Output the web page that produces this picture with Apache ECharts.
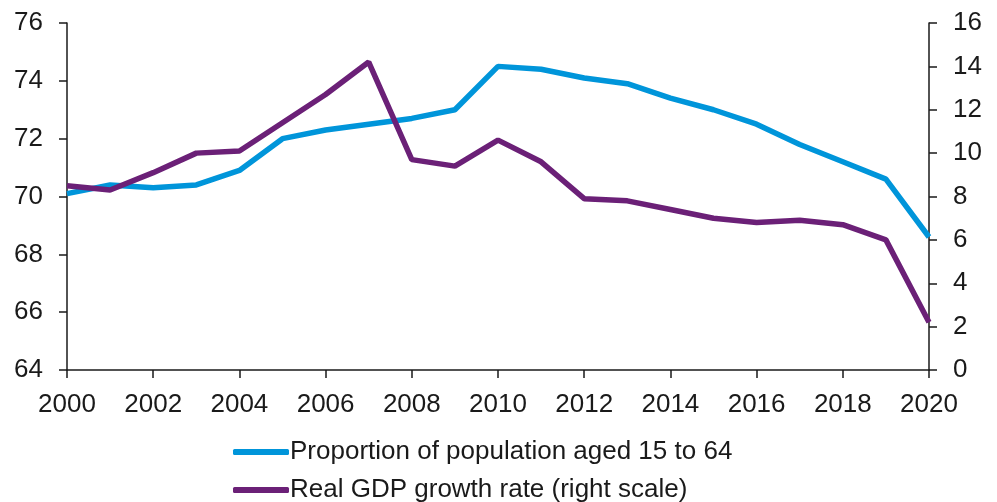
<!DOCTYPE html>
<html><head><meta charset="utf-8">
<script src="https://cdn.jsdelivr.net/npm/echarts@6/dist/echarts.min.js"></script>
<style>html,body{margin:0;padding:0;background:#fff}#c{width:997px;height:502px}</style>
</head><body><div id="c"></div>
<script>
const years = [2000,2001,2002,2003,2004,2005,2006,2007,2008,2009,2010,2011,2012,2013,2014,2015,2016,2017,2018,2019,2020];
const workingAge = [70.1,70.4,70.3,70.4,70.9,72.0,72.3,72.5,72.7,73.0,74.5,74.4,74.1,73.9,73.4,73.0,72.5,71.8,71.2,70.6,68.6];
const gdpGrowth = [8.5,8.3,9.1,10.0,10.1,11.4,12.7,14.2,9.7,9.4,10.6,9.6,7.9,7.8,7.4,7.0,6.8,6.9,6.7,6.0,2.2];
const names = ['Proportion of population aged 15 to 64','Real GDP growth rate (right scale)'];
const colors = ['#0095da','#6b2077'];

const font = 'Liberation Sans';
function axisStyle(margin){
  return {
    axisLine:{show:true,lineStyle:{color:'#1a1a1a',width:1.5}},
    axisTick:{show:true,length:8,lineStyle:{color:'#1a1a1a',width:1.5}},
    splitLine:{show:false},
    axisLabel:{color:'#1a1a1a',fontSize:26,fontFamily:font,margin:margin}
  };
}
function legendAt(top,name){
  return {
    orient:'vertical',left:233,top:top,padding:0,itemWidth:56,itemHeight:6,
    icon:'roundRect',
    textStyle:{color:'#1a1a1a',fontSize:26,fontFamily:font,lineHeight:26,padding:[0,0,0,-4]},
    data:[name]
  };
}
const chart = echarts.init(document.getElementById('c'));
chart.setOption({
  animation:false,
  grid:{left:67,right:68,top:23,bottom:132},
  legend:[legendAt(439,names[0]),legendAt(477,names[1])],
  xAxis:Object.assign({type:'value',min:2000,max:2020,interval:2},axisStyle(22)),
  yAxis:[
    Object.assign({type:'value',min:64,max:76,interval:2,position:'left'},axisStyle(24)),
    Object.assign({type:'value',min:0,max:16,interval:2,position:'right'},axisStyle(24))
  ],
  series:[
    {name:names[0],type:'line',yAxisIndex:0,symbol:'none',
     data:years.map((y,i)=>[y,workingAge[i]]),
     lineStyle:{color:colors[0],width:5.5},itemStyle:{color:colors[0]}},
    {name:names[1],type:'line',yAxisIndex:1,symbol:'none',
     data:years.map((y,i)=>[y,gdpGrowth[i]]),
     lineStyle:{color:colors[1],width:5.5},itemStyle:{color:colors[1]}}
  ]
});
chart.setOption({xAxis:{axisLabel:{formatter:v=>String(v)}}});
</script></body></html>
